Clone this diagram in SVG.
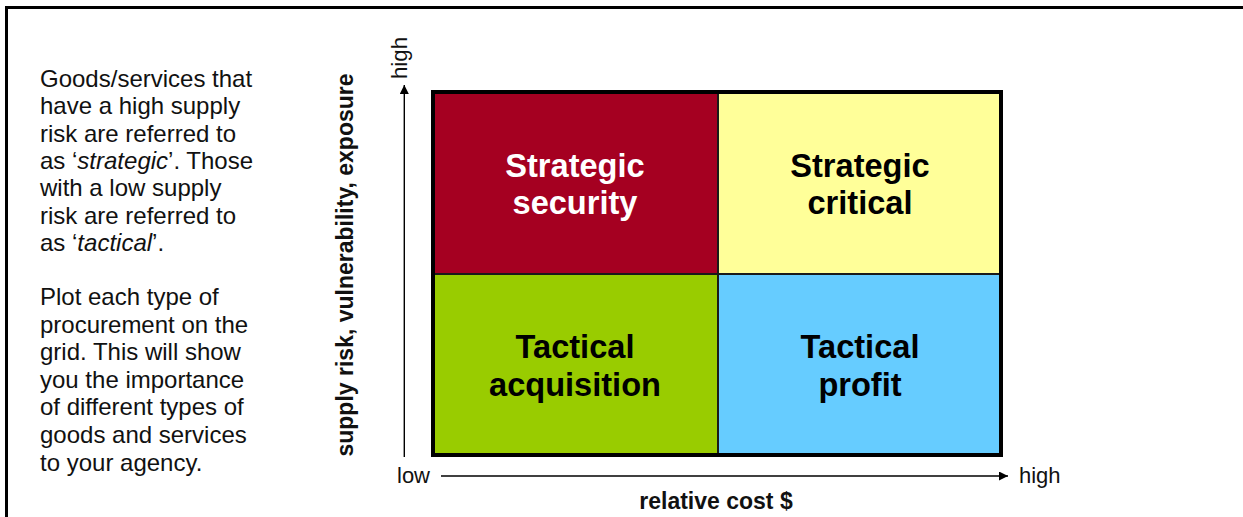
<svg xmlns="http://www.w3.org/2000/svg" width="1243" height="517" viewBox="0 0 1243 517">
<style>
.body{font-family:"Liberation Sans",Arial,sans-serif;font-size:24px;fill:#111}
.quad{font-family:"Liberation Sans",Arial,sans-serif;font-size:32.6px;font-weight:bold;text-anchor:middle}
.axis{font-family:"Liberation Sans",Arial,sans-serif;font-size:23px;font-weight:bold;fill:#111;text-anchor:middle}
.tick{font-family:"Liberation Sans",Arial,sans-serif;font-size:22px;fill:#111}
.ax{stroke:#000;stroke-width:1.4;fill:none}
</style>
<defs>
<marker id="arr" viewBox="0 0 10 10" refX="10" refY="5" markerWidth="9" markerHeight="9" markerUnits="userSpaceOnUse" orient="auto">
<path d="M0,0 L10,5 L0,10 z" fill="#000"/>
</marker>
</defs>
<rect width="1243" height="517" fill="#fff"/>
<path d="M6.5,517 V7.5 H1243" fill="none" stroke="#000" stroke-width="3"/>

<g id="description">
<text class="body" x="40" y="87">Goods/services that</text>
<text class="body" x="40" y="114.3">have a high supply</text>
<text class="body" x="40" y="141.6">risk are referred to</text>
<text class="body" x="40" y="168.9">as ‘<tspan font-style="italic">strategic</tspan>’. Those</text>
<text class="body" x="40" y="196.2">with a low supply</text>
<text class="body" x="40" y="223.5">risk are referred to</text>
<text class="body" x="40" y="250.8">as ‘<tspan font-style="italic">tactical</tspan>’.</text>
<text class="body" x="40" y="305">Plot each type of</text>
<text class="body" x="40" y="332.6">procurement on the</text>
<text class="body" x="40" y="360.2">grid. This will show</text>
<text class="body" x="40" y="387.8">you the importance</text>
<text class="body" x="40" y="415.4">of different types of</text>
<text class="body" x="40" y="443">goods and services</text>
<text class="body" x="40" y="470.6">to your agency.</text>
</g>

<g id="strategic-security">
<rect x="433" y="92" width="285" height="182" fill="#A50021"/>
<text class="quad" x="575" y="177" fill="#fff">Strategic</text>
<text class="quad" x="575" y="214" fill="#fff">security</text>
</g>
<g id="strategic-critical">
<rect x="718" y="92" width="283" height="182" fill="#FFFF99"/>
<text class="quad" x="860" y="177" fill="#000">Strategic</text>
<text class="quad" x="860" y="214" fill="#000">critical</text>
</g>
<g id="tactical-acquisition">
<rect x="433" y="274" width="285" height="181" fill="#99CC00"/>
<text class="quad" x="575" y="358" fill="#000">Tactical</text>
<text class="quad" x="575" y="396" fill="#000">acquisition</text>
</g>
<g id="tactical-profit">
<rect x="718" y="274" width="283" height="181" fill="#66CCFF"/>
<text class="quad" x="860" y="358" fill="#000">Tactical</text>
<text class="quad" x="860" y="396" fill="#000">profit</text>
</g>
<g id="grid-lines">
<line x1="718" y1="92" x2="718" y2="455" stroke="#1a1a1a" stroke-width="2"/>
<line x1="433" y1="274" x2="1001" y2="274" stroke="#1a1a1a" stroke-width="2"/>
<rect x="433" y="92" width="568" height="363" fill="none" stroke="#000" stroke-width="4"/>
</g>

<g id="connectors">
<line class="ax" x1="404.3" y1="457" x2="404.3" y2="85" marker-end="url(#arr)"/>
<line class="ax" x1="441" y1="476" x2="1008" y2="476" marker-end="url(#arr)"/>
</g>

<g id="axis-labels">
<text class="axis" transform="translate(353,265) rotate(-90)">supply risk, vulnerability, exposure</text>
<text class="axis" x="716" y="509">relative cost $</text>
<text class="tick" x="397" y="483">low</text>
<text class="tick" x="1019" y="483">high</text>
<text class="tick" font-size="16" textLength="42" lengthAdjust="spacingAndGlyphs" transform="translate(407,79) rotate(-90)">high</text>
</g>
</svg>
